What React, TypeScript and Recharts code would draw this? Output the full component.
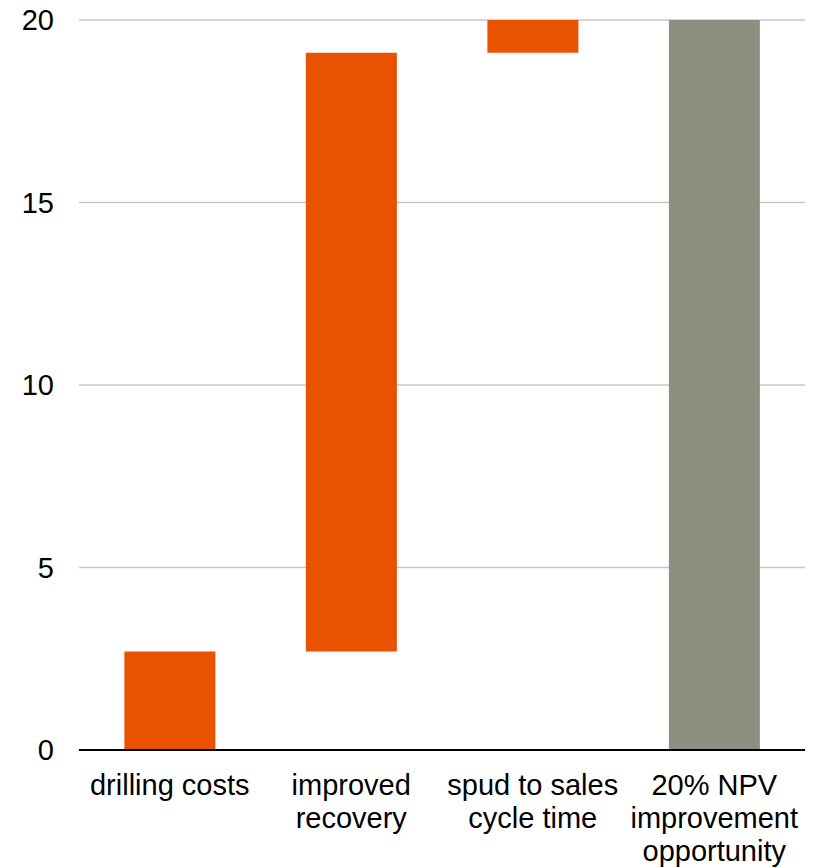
import React from 'react';
import { BarChart, Bar, XAxis, YAxis, CartesianGrid, Cell } from 'recharts';

// waterfall steps: invisible base + visible part
const categories = ['drilling costs', 'improved recovery', 'spud to sales cycle time', '20% NPV improvement opportunity'];
const tickLines = [
    ['drilling costs'],
    ['improved', 'recovery'],
    ['spud to sales', 'cycle time'],
    ['20% NPV', 'improvement', 'opportunity'],
];
const baseValues = [0, 2.7, 19.1, 0];
const stepValues = [2.7, 16.4, 0.9, 20];
const barColors = ['#E85200', '#E85200', '#E85200', '#8F8F7F'];
const yTicks = [0, 5, 10, 15, 20];

const FONT = 'Liberation Sans, Arial, sans-serif';

const data = categories.map((name, i) => ({
    name,
    base: baseValues[i],
    value: stepValues[i],
}));

function CategoryTick(props: any) {
    const { x, y, index } = props;
    const lines = tickLines[index] || [];
    return (
        <text x={x} y={y} textAnchor="middle" fontFamily={FONT} fontSize={29} fill="#000">
            {lines.map((line, i) => (
                <tspan key={i} x={x} dy={i === 0 ? 37 : 33}>
                    {line}
                </tspan>
            ))}
        </text>
    );
}

export default function App() {
    return (
        <div style={{ position: 'absolute', left: 0, top: 0, background: '#fff' }}>
            <BarChart
                width={815}
                height={868}
                data={data}
                margin={{ top: 20, right: 10, left: 0, bottom: 0 }}
                barCategoryGap="25%"
            >
                <CartesianGrid vertical={false} stroke="#C8C8C0" strokeWidth={1.5} />
                <XAxis
                    dataKey="name"
                    height={118}
                    axisLine={{ stroke: '#000', strokeWidth: 2 }}
                    tickLine={false}
                    tick={<CategoryTick />}
                    interval={0}
                />
                <YAxis
                    width={79}
                    domain={[0, 20]}
                    ticks={yTicks}
                    axisLine={false}
                    tickLine={false}
                    tickSize={6}
                    tickMargin={19}
                    tick={{ fontFamily: FONT, fontSize: 29, fill: '#000' }}
                />
                <Bar dataKey="base" stackId="w" fill="transparent" isAnimationActive={false} />
                <Bar dataKey="value" stackId="w" isAnimationActive={false}>
                    {data.map((d, i) => (
                        <Cell key={d.name} fill={barColors[i]} />
                    ))}
                </Bar>
            </BarChart>
        </div>
    );
}
